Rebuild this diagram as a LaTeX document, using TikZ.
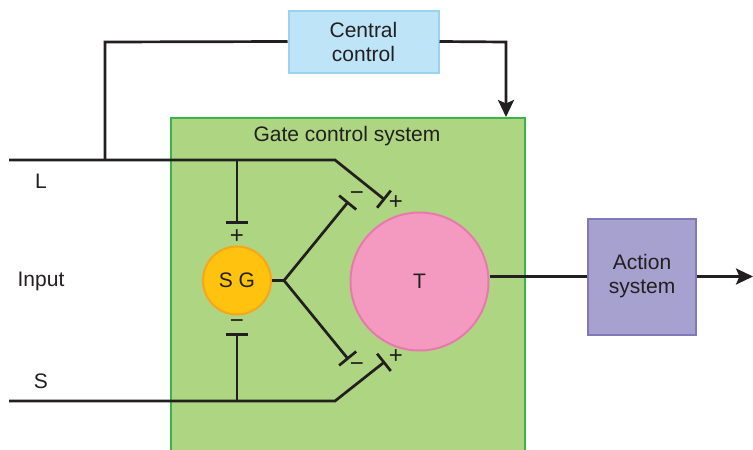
\documentclass[tikz,border=0pt]{standalone}
\usepackage{fontspec}
\setmainfont{Liberation Sans}
\usetikzlibrary{arrows.meta}
\definecolor{wire}{HTML}{231F20}
\definecolor{ccfill}{HTML}{BEE5F7}
\definecolor{ccdraw}{HTML}{9AD3F0}
\definecolor{gfill}{HTML}{AED581}
\definecolor{gdraw}{HTML}{39B54A}
\definecolor{sgfill}{HTML}{FFC20E}
\definecolor{sgdraw}{HTML}{F9A51A}
\definecolor{tfill}{HTML}{F49AC1}
\definecolor{tdraw}{HTML}{E879AE}
\definecolor{afill}{HTML}{A7A1D0}
\definecolor{adraw}{HTML}{8078BA}
\begin{document}
\begin{tikzpicture}[x=1pt,y=-1pt,
  lbl/.style={font=\fontsize{21}{24}\selectfont, text=wire, inner sep=0pt},
  sign/.style={font=\fontsize{24}{26}\selectfont, text=wire, inner sep=0pt},
  wireline/.style={draw=wire, line width=2.7pt},
  syn/.style={wireline, -{Bar[width=22pt]}},
  arr/.style={wireline, -{Stealth[length=17pt,width=16pt,inset=3.5pt]}},
  boxstyle/.style={rectangle, line width=2pt, inner sep=0pt, align=center, font=\fontsize{21}{24}\selectfont, text=wire}]
\useasboundingbox (0,0) rectangle (753,450);
\clip (0,0) rectangle (753,450);
% gate control box
\node[boxstyle, fill=gfill, draw=gdraw, minimum width=354pt, minimum height=343pt, anchor=north west] (gate) at (170,117) {};
\node[lbl] (gatelbl) at (347,136) {Gate control system};
% central control
\node[boxstyle, fill=ccfill, draw=ccdraw, minimum width=150pt, minimum height=62pt] (cc) at (363.5,41.5) {Central\\control};
% action system
\node[boxstyle, fill=afill, draw=adraw, minimum width=108pt, minimum height=116pt] (act) at (642,276.5) {Action\\system};
% circles
\node[circle, fill=sgfill, draw=sgdraw, line width=2pt, minimum size=68pt, inner sep=0pt, font=\fontsize{21}{24}\selectfont, text=wire] (sg) at (237,280.5) {S G};
\node[circle, fill=tfill, draw=tdraw, line width=2pt, minimum size=138pt, inner sep=0pt, font=\fontsize{21}{24}\selectfont, text=wire] (t) at (419.5,281.5) {T};
% coordinates
\coordinate (Ls) at (9,160);
\coordinate (Lb) at (335,160);
\coordinate (Le) at (385,200);
\coordinate (Lj) at (237,160);
\coordinate (Lv) at (237,224);
\coordinate (Fj) at (105,160);
\coordinate (Ft) at (105,42);
\coordinate (Rt) at (506,42);
\coordinate (Rb) at (506,117);
\coordinate (Ss) at (9,401);
\coordinate (Sb) at (335,401);
\coordinate (Se) at (385,361.5);
\coordinate (Sj) at (237,401);
\coordinate (Sv) at (237,333);
\coordinate (V) at (284,280.5);
\coordinate (Up) at (348.5,201.5);
\coordinate (Dn) at (348.5,359.5);
\coordinate (Out) at (753,276.5);
% wires
\draw[syn] (Ls) -- (Lb) -- (Le);
\draw[syn] (Lj) -- (Lv);
\draw[syn] (Ss) -- (Sb) -- (Se);
\draw[syn] (Sj) -- (Sv);
\draw[wireline] (sg.east) -- (V);
\draw[syn] (V) -- (Up);
\draw[syn] (V) -- (Dn);
\draw[wireline] (Fj) -- (Ft) -- (cc.west);
\draw[arr] (cc.east) -- (Rt) -- (Rb);
\draw[wireline] (t.east |- act.west) -- (act.west);
\draw[arr] (act.east) -- (Out);
% signs
\node[sign] (p1) at (396,203) {+};
\node[sign] (p2) at (237,237) {+};
\node[sign] (p3) at (396,357) {+};
\node[sign] (m1) at (357,196) {−};
\node[sign] (m2) at (237,324) {−};
\node[sign] (m3) at (357,367) {−};
% labels
\node[lbl] (L) at (41,181) {L};
\node[lbl] (inp) at (41,281) {Input};
\node[lbl] (S) at (41,381) {S};
\end{tikzpicture}
\end{document}
